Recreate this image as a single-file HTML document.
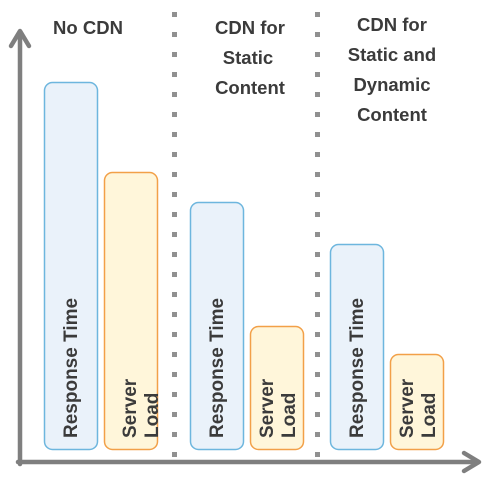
<!DOCTYPE html>
<html><head><meta charset="utf-8"><style>html,body{margin:0;padding:0;background:#fff}</style></head>
<body>
<svg width="500" height="483" viewBox="0 0 500 483" xmlns="http://www.w3.org/2000/svg" font-family="Liberation Sans, sans-serif" font-weight="bold">
<g fill="#909090">
<rect x="172" y="12" width="5" height="5"/><rect x="172" y="32" width="5" height="5"/><rect x="172" y="52" width="5" height="5"/><rect x="172" y="72" width="5" height="5"/><rect x="172" y="92" width="5" height="5"/><rect x="172" y="112" width="5" height="5"/><rect x="172" y="132" width="5" height="5"/><rect x="172" y="152" width="5" height="5"/><rect x="172" y="172" width="5" height="5"/><rect x="172" y="192" width="5" height="5"/><rect x="172" y="212" width="5" height="5"/><rect x="172" y="232" width="5" height="5"/><rect x="172" y="252" width="5" height="5"/><rect x="172" y="272" width="5" height="5"/><rect x="172" y="292" width="5" height="5"/><rect x="172" y="312" width="5" height="5"/><rect x="172" y="332" width="5" height="5"/><rect x="172" y="352" width="5" height="5"/><rect x="172" y="372" width="5" height="5"/><rect x="172" y="392" width="5" height="5"/><rect x="172" y="412" width="5" height="5"/><rect x="172" y="432" width="5" height="5"/><rect x="172" y="452" width="5" height="5"/>
<rect x="315" y="12" width="5" height="5"/><rect x="315" y="32" width="5" height="5"/><rect x="315" y="52" width="5" height="5"/><rect x="315" y="72" width="5" height="5"/><rect x="315" y="92" width="5" height="5"/><rect x="315" y="112" width="5" height="5"/><rect x="315" y="132" width="5" height="5"/><rect x="315" y="152" width="5" height="5"/><rect x="315" y="172" width="5" height="5"/><rect x="315" y="192" width="5" height="5"/><rect x="315" y="212" width="5" height="5"/><rect x="315" y="232" width="5" height="5"/><rect x="315" y="252" width="5" height="5"/><rect x="315" y="272" width="5" height="5"/><rect x="315" y="292" width="5" height="5"/><rect x="315" y="312" width="5" height="5"/><rect x="315" y="332" width="5" height="5"/><rect x="315" y="352" width="5" height="5"/><rect x="315" y="372" width="5" height="5"/><rect x="315" y="392" width="5" height="5"/><rect x="315" y="412" width="5" height="5"/><rect x="315" y="432" width="5" height="5"/><rect x="315" y="452" width="5" height="5"/>
</g>
<g fill="none" stroke="#7f7f7f" stroke-width="4.5" stroke-linecap="round" stroke-linejoin="round">
<line x1="20" y1="464" x2="20" y2="32"/>
<polyline points="11,46 20,31 29,46"/>
<line x1="18" y1="462" x2="478" y2="462"/>
<polyline points="464,453 479,462 464,471"/>
</g>
<g stroke-width="1.5">
<rect x="44.5" y="82.5" width="53" height="367" rx="8" fill="#eaf2fa" stroke="#6db6de"/>
<rect x="104.5" y="172.5" width="53" height="277" rx="8" fill="#fff6da" stroke="#f2a048"/>
<rect x="190.5" y="202.5" width="53" height="247" rx="8" fill="#eaf2fa" stroke="#6db6de"/>
<rect x="250.5" y="326.5" width="53" height="123" rx="8" fill="#fff6da" stroke="#f2a048"/>
<rect x="330.5" y="244.5" width="53" height="205" rx="8" fill="#eaf2fa" stroke="#6db6de"/>
<rect x="390.5" y="354.5" width="53" height="95" rx="8" fill="#fff6da" stroke="#f2a048"/>
</g>
<g fill="#3b3b3b" font-size="19">
<text transform="translate(77,438) rotate(-90)">Response Time</text>
<text transform="translate(223,438) rotate(-90)">Response Time</text>
<text transform="translate(363,438) rotate(-90)">Response Time</text>
<text transform="translate(136,438) rotate(-90)">Server</text>
<text transform="translate(158,438) rotate(-90)">Load</text>
<text transform="translate(273,438) rotate(-90)">Server</text>
<text transform="translate(295,438) rotate(-90)">Load</text>
<text transform="translate(413,438) rotate(-90)">Server</text>
<text transform="translate(435,438) rotate(-90)">Load</text>
</g>
<g fill="#3b3b3b" font-size="18.5" text-anchor="middle">
<text x="88" y="34">No CDN</text>
<text x="250" y="34">CDN for</text>
<text x="248" y="64">Static</text>
<text x="250" y="94">Content</text>
<text x="392" y="31">CDN for</text>
<text x="392" y="61">Static and</text>
<text x="392" y="91">Dynamic</text>
<text x="392" y="121">Content</text>
</g>
</svg>
</body></html>
